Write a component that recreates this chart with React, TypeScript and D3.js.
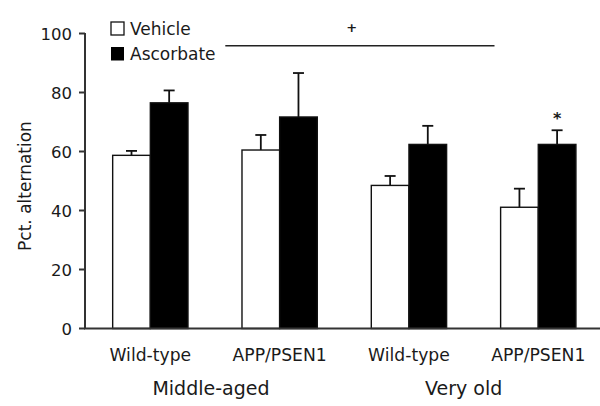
import React from "react";
import * as d3 from "d3";

const genotypes = ["Wild-type", "APP/PSEN1", "Wild-type", "APP/PSEN1"];
const groupKeys = ["g1", "g2", "g3", "g4"];
const ageGroups = ["Middle-aged", "Very old"];
const seriesNames = ["Vehicle", "Ascorbate"];
const vehicle = [58.7, 60.5, 48.5, 41.1];
const vehicleErr = [1.5, 5.1, 3.2, 6.3];
const ascorbate = [76.5, 71.7, 62.4, 62.4];
const ascorbateErr = [4.2, 14.9, 6.3, 4.8];
const yTicks = [0, 20, 40, 60, 80, 100];
const yLabel = "Pct. alternation";

const W = 600;
const H = 406;
const FONT = "'DejaVu Sans', Verdana, sans-serif";
const TXT = "#1a1a1a";

export default function App() {
  const y = d3.scaleLinear().domain([0, 100]).range([328.5, 33.5]);
  const x0 = d3
    .scaleBand<string>()
    .domain(groupKeys)
    .range([85, 603.6])
    .paddingInner(0.4176)
    .paddingOuter(0.214);
  const x1 = d3.scaleBand<string>().domain(seriesNames).range([0, x0.bandwidth()]).padding(0);

  const series = [
    { name: seriesNames[0], vals: vehicle, errs: vehicleErr, fill: "#ffffff" },
    { name: seriesNames[1], vals: ascorbate, errs: ascorbateErr, fill: "#000000" },
  ];

  const center = (i: number) => (x0(groupKeys[i]) as number) + x0.bandwidth() / 2;
  const capW = 11;

  return (
    <svg width={W} height={H} style={{ position: "absolute", left: 0, top: 0, background: "#fff" }}>
      <rect x={0} y={0} width={W} height={H} fill="#fff" />
      {/* bars */}
      {series.map((s) =>
        s.vals.map((v, i) => {
          const bx = (x0(groupKeys[i]) as number) + (x1(s.name) as number);
          const bw = x1.bandwidth();
          const cx = bx + bw / 2;
          const top = y(v);
          const et = y(v + s.errs[i]);
          return (
            <g key={s.name + i}>
              <line x1={cx} x2={cx} y1={top} y2={et} stroke="#111" strokeWidth={1.8} />
              <line x1={cx - capW / 2} x2={cx + capW / 2} y1={et} y2={et} stroke="#111" strokeWidth={1.8} />
              <rect
                x={bx}
                y={top}
                width={bw}
                height={y(0) - top}
                fill={s.fill}
                stroke="#111"
                strokeWidth={1.4}
              />
            </g>
          );
        })
      )}
      {/* y axis */}
      <line x1={85} x2={85} y1={y(100) - 0.5} y2={y(0)} stroke="#333" strokeWidth={2} />
      {yTicks.map((t) => (
        <g key={t}>
          <line x1={79} x2={85} y1={y(t)} y2={y(t)} stroke="#333" strokeWidth={2} />
          <text x={72} y={y(t) + 6} textAnchor="end" fontFamily={FONT} fontSize={16.5} fill={TXT}>
            {t}
          </text>
        </g>
      ))}
      {/* x axis */}
      <line x1={84} x2={600} y1={y(0)} y2={y(0)} stroke="#333" strokeWidth={2} />
      {genotypes.map((g, i) => (
        <text key={i} x={center(i)} y={360.5} textAnchor="middle" fontFamily={FONT} fontSize={17.2} fill={TXT}>
          {g}
        </text>
      ))}
      {ageGroups.map((a, k) => (
        <text
          key={a}
          x={(center(2 * k) + center(2 * k + 1)) / 2 - (k === 0 ? 4 : 10)}
          y={394.5}
          textAnchor="middle"
          fontFamily={FONT}
          fontSize={19}
          fill={TXT}
        >
          {a}
        </text>
      ))}
      <text
        transform={`translate(30.5, ${186}) rotate(-90)`}
        textAnchor="middle"
        fontFamily={FONT}
        fontSize={17}
        fill={TXT}
      >
        {yLabel}
      </text>
      {/* legend */}
      <rect x={111} y={22} width={13} height={13} fill="#fff" stroke="#111" strokeWidth={1.3} />
      <rect x={111} y={47} width={13} height={13.5} fill="#000" />
      <text x={130} y={35} fontFamily={FONT} fontSize={17} fill={TXT}>
        {seriesNames[0]}
      </text>
      <text x={130} y={60} fontFamily={FONT} fontSize={17} fill={TXT}>
        {seriesNames[1]}
      </text>
      {/* significance */}
      <line x1={225.3} x2={494.5} y1={45.7} y2={45.7} stroke="#222" strokeWidth={1.4} />
      <text x={351.7} y={32} textAnchor="middle" fontFamily={FONT} fontSize={13} fontWeight="bold" fill={TXT}>
        +
      </text>
      <text
        x={center(3) + x1.bandwidth() / 2}
        y={y(ascorbate[3] + ascorbateErr[3]) - 6}
        textAnchor="middle"
        fontFamily={FONT}
        fontSize={16}
        fontWeight="bold"
        fill={TXT}
      >
        *
      </text>
    </svg>
  );
}
